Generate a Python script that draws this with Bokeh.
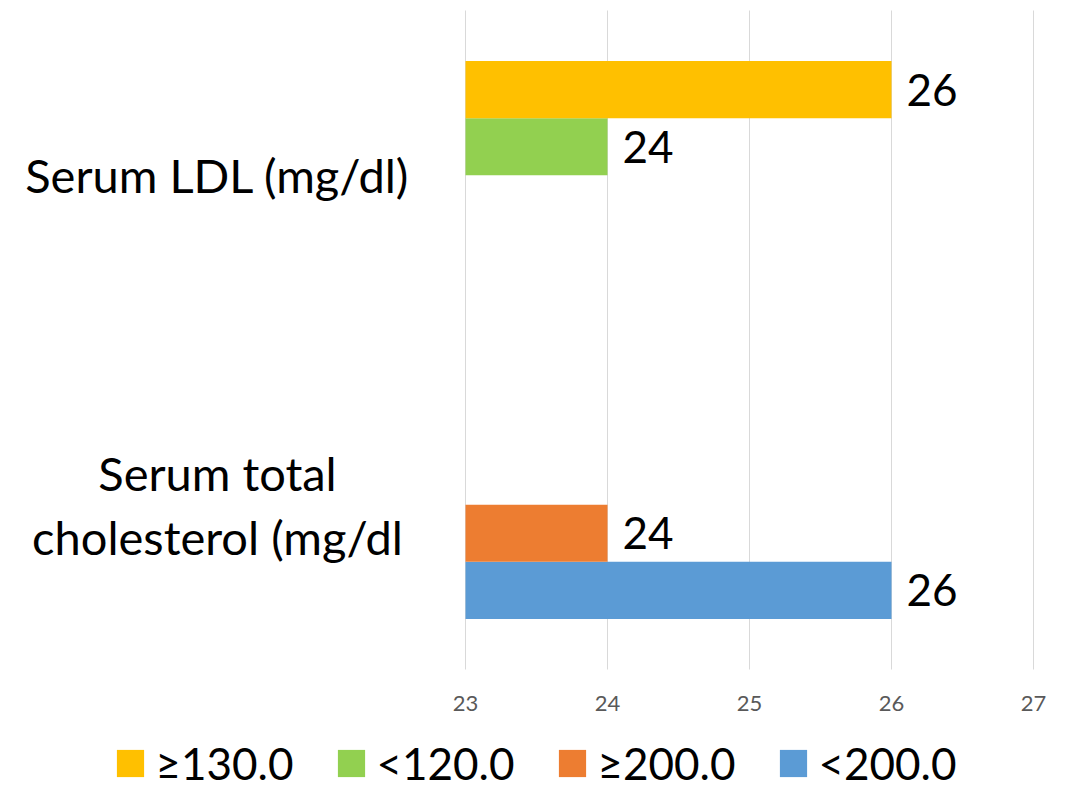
from bokeh.plotting import figure
from bokeh.models import (ColumnDataSource, Range1d, FixedTicker, Legend, LegendItem)
from bokeh.transform import dodge
from bokeh.core.properties import value
from bokeh.embed import file_html
from bokeh.resources import INLINE

# ---- data ----
categories = ["Serum total\ncholesterol (mg/dl", "Serum LDL (mg/dl)"]
series_names = ["<200.0", "\u2265200.0", "<120.0", "\u2265130.0"]
series_colors = ["#5B9BD5", "#ED7D31", "#92D050", "#FFC000"]
series_values = {
    "<200.0":       [26, None],
    "\u2265200.0":  [24, None],
    "<120.0":       [None, 24],
    "\u2265130.0":  [None, 26],
}
x_ticks = [23, 24, 25, 26, 27]
x_min, x_max = 23, 27

FONT = "Lato"
W, H = 1069, 789

# layout (pixels): plot area left/right/top/bottom
PL, PR, PT, PB = 465, 1033, 10, 669
ux = (PR - PL) / (x_max - x_min)            # px per x unit
ncat = len(categories)
uy = (PB - PT) / ncat                       # px per category band
xr = Range1d(x_min - PL / ux, x_max + (W - PR) / ux)
yr = Range1d(0 - (H - PB) / uy, ncat + PT / uy)

p = figure(width=W, height=H, output_backend="svg", toolbar_location=None,
           x_range=xr, y_range=yr,
           min_border_left=0, min_border_right=0, min_border_top=0, min_border_bottom=0)
p.outline_line_color = None
p.axis.visible = False
p.ygrid.visible = False
p.xgrid.ticker = FixedTicker(ticks=x_ticks)
p.xgrid.grid_line_color = "#D9D9D9"
p.xgrid.grid_line_width = 1
p.xgrid.cross_bounds = (0, ncat)

bar_h = 0.1733
n = len(series_names)
renderers = {}
for i, name in enumerate(series_names):
    offset = (i - (n - 1) / 2) * bar_h
    ys, vals, labs = [], [], []
    for ci, v in enumerate(series_values[name]):
        if v is None:
            continue
        ys.append(ci + 0.5)
        vals.append(v)
        labs.append(str(v))
    src = ColumnDataSource(dict(y=ys, value=vals, label=labs))
    renderers[name] = p.hbar(y=dodge("y", offset, range=p.y_range), left=x_min, right="value",
                             height=bar_h, source=src, fill_color=series_colors[i], line_color=None)
    p.text(x="value", y=dodge("y", offset, range=p.y_range), text="label", source=src,
           x_offset=15, text_baseline="middle", text_align="left",
           text_font=value(FONT), text_font_size="44px", text_color="black")

# x tick labels
tick_src = ColumnDataSource(dict(x=x_ticks, y=[0] * len(x_ticks), t=[str(t) for t in x_ticks]))
p.text(x="x", y="y", text="t", source=tick_src, y_offset=34, text_align="center",
       text_baseline="middle", text_font=value(FONT), text_font_size="22px",
       text_color="#595959")

# category labels (centered in the label area left of the plot)
label_cx = x_min - (PL - 217) / ux
cat_src = ColumnDataSource(dict(x=[label_cx] * ncat, y=[ci + 0.5 for ci in range(ncat)],
                                t=categories))
p.text(x="x", y="y", text="t", source=cat_src, text_align="center", text_baseline="middle",
       text_font=value(FONT), text_font_size="47px", text_color="black",
       text_line_height=1.15)

# legend (reverse order like Excel)
items = [LegendItem(label=nm, renderers=[renderers[nm]]) for nm in reversed(series_names)]
legend = Legend(items=items, orientation="horizontal", location="bottom_center",
                glyph_width=34, glyph_height=34, label_standoff=9, spacing=40,
                label_text_font=FONT, label_text_font_size="44px", label_text_color="black",
                border_line_color=None, background_fill_alpha=0,
                padding=0, margin=0)
p.add_layout(legend)

open("out.html", "w").write(file_html(p, INLINE))
